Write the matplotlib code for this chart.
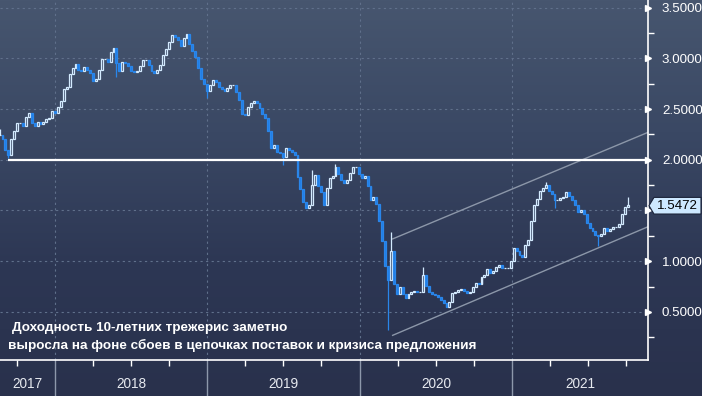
import numpy as np
import pandas as pd
import matplotlib
matplotlib.use("Agg")
import matplotlib.pyplot as plt
import matplotlib.dates as mdates
from matplotlib.patches import Polygon
from matplotlib.colors import LinearSegmentedColormap

plt.rcParams['font.family'] = ['Liberation Sans', 'DejaVu Sans']

# ---------------- data (weekly closes, US 10Y yield, %) ----------------
start_date = "2017-08-21"
closes = [
    2.24, 2.20, 2.10, 2.05, 2.20, 2.28, 2.36, 2.36, 2.33, 2.42,
    2.46, 2.36, 2.33, 2.37, 2.35, 2.37, 2.40, 2.41, 2.48, 2.46,
    2.52, 2.58, 2.70, 2.72, 2.84, 2.90, 2.94, 2.88, 2.87, 2.91,
    2.88, 2.85, 2.78, 2.80, 2.88, 2.99, 2.99, 2.96, 3.06, 3.10,
    2.95, 2.87, 2.96, 2.95, 2.92, 2.87, 2.86, 2.87, 2.92, 2.98,
    2.98, 2.93, 2.87, 2.85, 2.88, 2.93, 3.03, 3.09, 3.16, 3.23,
    3.21, 3.18, 3.12, 3.20, 3.24, 3.14, 3.07, 3.01, 2.90, 2.80,
    2.75, 2.68, 2.74, 2.79, 2.77, 2.72, 2.70, 2.68, 2.71, 2.74,
    2.74, 2.67, 2.59, 2.45, 2.44, 2.52, 2.56, 2.58, 2.56, 2.51,
    2.45, 2.41, 2.28, 2.12, 2.15, 2.08, 2.07, 2.03, 2.12, 2.10,
    2.08, 2.05, 1.83, 1.71, 1.58, 1.52, 1.55, 1.75, 1.85, 1.74,
    1.68, 1.55, 1.72, 1.82, 1.84, 1.93, 1.86, 1.80, 1.77, 1.80,
    1.87, 1.93, 1.93, 1.86, 1.82, 1.84, 1.74, 1.60, 1.63, 1.56,
    1.40, 1.20, 0.95, 0.82, 1.10, 0.78, 0.68, 0.75, 0.68, 0.64,
    0.68, 0.70, 0.71, 0.70, 0.70, 0.86, 0.76, 0.70, 0.68, 0.67,
    0.65, 0.62, 0.59, 0.55, 0.60, 0.69, 0.70, 0.72, 0.73, 0.71,
    0.69, 0.70, 0.75, 0.79, 0.78, 0.84, 0.86, 0.92, 0.88, 0.90,
    0.94, 0.96, 0.93, 0.93, 0.93, 1.00, 1.13, 1.10, 1.06, 1.04,
    1.16, 1.21, 1.40, 1.55, 1.61, 1.69, 1.72, 1.75, 1.69, 1.66,
    1.60, 1.60, 1.62, 1.63, 1.68, 1.64, 1.60, 1.55, 1.49, 1.50,
    1.47, 1.38, 1.33, 1.30, 1.26, 1.25, 1.27, 1.33, 1.30, 1.32,
    1.34, 1.34, 1.37, 1.47, 1.53, 1.55,
]
spike_high_idx = [0, 107, 115, 134, 145, 187, 215]
spike_high_val = [2.30, 1.90, 1.96, 1.29, 0.94, 1.78, 1.63]
spike_low_idx = [3, 40, 71, 97, 133, 190, 205]
spike_low_val = [2.02, 2.82, 2.61, 1.95, 0.32, 1.52, 1.15]

resistance_level = 2.0
chan_upper = [1.22, 2.27]
chan_lower = [0.27, 1.34]
chan_dates = ["2020-03-20", "2021-11-22"]

last_value = 1.5472
year_labels = ["2017", "2018", "2019", "2020", "2021"]
ytick_vals = [0.5, 1.0, 1.5, 2.0, 2.5, 3.0, 3.5]
note_line1 = "Доходность 10-летних трежерис заметно"
note_line2 = "выросла на фоне сбоев в цепочках поставок и кризиса предложения"

# ---------------- derived ----------------
dates = pd.date_range(start_date, periods=len(closes), freq="7D")
closes = np.array(closes)
opens = np.concatenate([[closes[0]], closes[:-1]])
highs = np.maximum(opens, closes)
lows = np.minimum(opens, closes)
for i, v in zip(spike_high_idx, spike_high_val):
    highs[i] = max(highs[i], v)
for i, v in zip(spike_low_idx, spike_low_val):
    lows[i] = min(lows[i], v)

W, H = 702, 396
fig = plt.figure(figsize=(W / 100, H / 100), dpi=100)

# background gradient
bg = fig.add_axes([0, 0, 1, 1], zorder=-10)
bg.axis("off")
cmap = LinearSegmentedColormap.from_list("bg", ["#47566f", "#3a4864", "#2d3754", "#29314c"])
bg.imshow(np.linspace(0, 1, 256).reshape(-1, 1), aspect="auto", cmap=cmap,
          extent=[0, 1, 0, 1], origin="upper")

ax = fig.add_axes([0, 36 / H, 648 / W, 360 / H])
ax.set_facecolor("none")

xmin = mdates.date2num(pd.Timestamp("2017-08-22"))
xmax = mdates.date2num(pd.Timestamp("2021-11-22"))
ax.set_xlim(xmin, xmax)
ax.set_ylim(0.027, 3.574)

# grid
for v in ytick_vals:
    ax.axhline(v, color="#60708b", lw=0.8, ls=(0, (2, 3)), zorder=1)
year_starts = [mdates.date2num(pd.Timestamp(f"{y}-01-01")) for y in range(2018, 2022)]
for xs in year_starts:
    ax.axvline(xs, color="#60708b", lw=0.8, ls=(0, (2, 3)), zorder=1)

# horizontal level
ax.hlines(resistance_level, mdates.date2num(dates[3]), xmax, color="white", lw=1.6, zorder=4)

# channel
cd = mdates.date2num(pd.to_datetime(chan_dates))
ax.plot(cd, chan_upper, color="#8c97a9", lw=1.0, zorder=2)
ax.plot(cd, chan_lower, color="#8c97a9", lw=1.0, zorder=2)

# candles
xd = mdates.date2num(dates)
up = closes >= opens
ax.vlines(xd, lows, highs, color=np.where(up, "#d4ebff", "#2a86ea"), lw=0.9, zorder=3)
bw = 4.6
ax.bar(xd[up], closes[up] - opens[up], bottom=opens[up], width=bw,
       facecolor="#3b4a67", edgecolor="#d4ebff", linewidth=0.9, zorder=3)
ax.bar(xd[~up], opens[~up] - closes[~up], bottom=closes[~up], width=bw,
       facecolor="#1f7de6", edgecolor="#2a86ea", linewidth=0.9, zorder=3)

# spines
for s in ["left", "top"]:
    ax.spines[s].set_visible(False)
ax.spines["right"].set_color("white")
ax.spines["bottom"].set_color("white")
ax.spines["right"].set_linewidth(1.2)
ax.spines["bottom"].set_linewidth(1.2)

# y axis right (1.5 label is hidden behind the last-value tag)
ax.yaxis.tick_right()
ax.set_yticks(ytick_vals)
ax.set_yticklabels(["" if abs(v - 1.5) < 1e-9 else f"{v:.4f}" for v in ytick_vals])
ax.set_yticks([0.25, 0.75, 1.25, 1.75, 2.25, 2.75, 3.25], minor=True)
ax.tick_params(axis="y", which="major", colors="white", length=0, pad=10,
               labelsize=9.6, labelcolor="white")
ax.tick_params(axis="y", which="minor", colors="white", length=4, width=1)
ax.plot([1.0] * len(ytick_vals), ytick_vals, marker=">", ms=5, color="white",
        ls="none", transform=ax.get_yaxis_transform(), clip_on=False, zorder=5)

# x axis: quarter ticks, year separators and labels
qt = [mdates.date2num(d) for d in pd.date_range("2017-10-01", "2021-10-01", freq="QS")]
qt = [q for q in qt if q not in year_starts]
ax.set_xticks(qt)
ax.set_xticklabels([])
ax.tick_params(axis="x", which="major", colors="white", length=4, width=1)
tr = ax.get_xaxis_transform()
for xs in year_starts:
    ax.plot([xs, xs], [0, -0.1], color="#8d98ab", lw=1.0, transform=tr, clip_on=False)
bounds = [xmin] + year_starts + [xmax]
for i, lab in enumerate(year_labels):
    cx = (bounds[i] + bounds[i + 1]) / 2
    ax.text(cx, -0.068, lab, transform=tr, ha="center", va="center",
            color="#e6e9ef", fontsize=9.8)

# note text
ax.text(12 / 648, (360 - 328) / 360, note_line1, transform=ax.transAxes,
        ha="left", va="center", color="white", fontsize=9.7, fontweight="bold", zorder=6)
ax.text(8 / 648, (360 - 345) / 360, note_line2, transform=ax.transAxes,
        ha="left", va="center", color="white", fontsize=9.7, fontweight="bold", zorder=6)

# last value tag
ytr = ax.get_yaxis_transform()
hh = 0.082
x0, x1, x2 = 1.0 + 1 / 648, 1.0 + 6 / 648, 1.0 + 53 / 648
tag = Polygon([(x0, last_value), (x1, last_value + hh), (x2, last_value + hh),
               (x2, last_value - hh), (x1, last_value - hh)], closed=True,
              transform=ytr, clip_on=False, facecolor="#cde8ff", edgecolor="#1a2238",
              lw=0.8, zorder=10)
ax.add_patch(tag)
ax.text(1.0 + 29 / 648, last_value, f"{last_value:.4f}", transform=ytr, ha="center",
        va="center", color="black", fontsize=9.6, zorder=11, clip_on=False)

fig.savefig("out.png", dpi=100)
